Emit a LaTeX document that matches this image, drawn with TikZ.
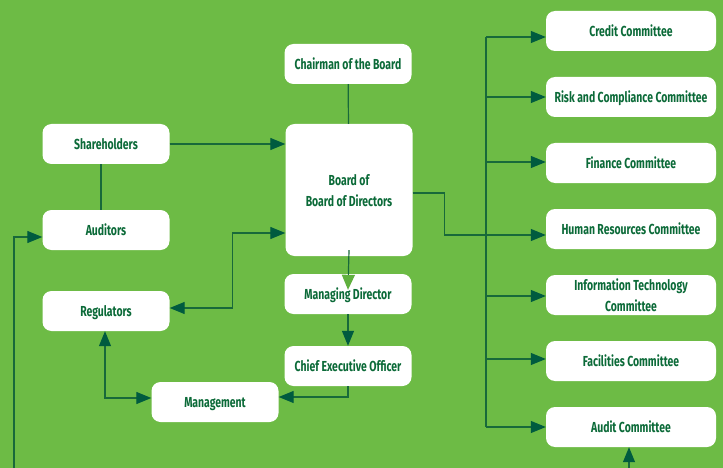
\documentclass[tikz,border=0pt]{standalone}
\usepackage{fontspec}
\usepackage{tikz}
\usetikzlibrary{arrows.meta, positioning, calc}
\newfontfamily\boxfont{Fira Sans}[FakeStretch=0.72]
\definecolor{boardbg}{RGB}{109, 187, 69}
\definecolor{boardtext}{RGB}{11, 106, 56}
\definecolor{boardline}{RGB}{24, 105, 58}
\definecolor{boardhead}{RGB}{0, 91, 63}
\definecolor{boardlight}{RGB}{96, 176, 62}

\begin{document}
\begin{tikzpicture}[
    x=1pt, y=-1pt,
    box/.style={rectangle, fill=white, rounded corners=9pt, inner sep=2pt, align=center, text depth=0pt,
        minimum width=127pt, minimum height=40pt, text=boardtext, font=\boxfont\bfseries\fontsize{14.5pt}{21pt}\selectfont},
    cbox/.style={box, minimum width=170pt},
    link/.style={draw=boardline, line width=1.2pt},
    arrow/.style={link, -{Triangle[length=15pt, width=12pt, color=boardhead]}},
    biarrow/.style={link, {Triangle[length=15pt, width=12pt, color=boardhead]}-{Triangle[length=15pt, width=12pt, color=boardhead]}},
    lightarrow/.style={link, -{Triangle[length=15pt, width=13pt, color=boardlight]}}
]
    \useasboundingbox (0,0) rectangle (723,468);
    \fill[boardbg] (0,0) rectangle (723,468);

    % Centre column
    \node[box] (chair) at (348,64) {Chairman of the Board};
    \node[box, minimum height=132pt] (board) at (349,190) {Board of\\Board of Directors};
    \node[box] (md) at (348,294) {Managing Director};
    \node[box] (ceo) at (348,366) {Chief Executive Officer};
    \node[box] (mgmt) at (215,402) {Management};

    % Left column
    \node[box] (share) at (106,144) {Shareholders};
    \node[box] (aud) at (106,230) {Auditors};
    \node[box] (reg) at (106,311) {Regulators};

    % Committees
    \node[cbox] (credit) at (631,31) {Credit Committee};
    \node[cbox] (risk) at (631,97) {Risk and Compliance Committee};
    \node[cbox] (finance) at (631,163) {Finance Committee};
    \node[cbox] (hr) at (631,229) {Human Resources Committee};
    \node[cbox] (it) at (631,295) {Information Technology\\Committee};
    \node[cbox] (fac) at (631,361) {Facilities Committee};
    \node[cbox] (audit) at (631,427) {Audit Committee};

    \coordinate (bustop) at (486,37);
    \coordinate (busbot) at (486,427);
    \coordinate (leftin) at (14,468);
    \coordinate (auditin) at (629,468);

    % Connectors
    \draw[link] (chair) -- (board);
    \draw[link] ([xshift=-5pt]share.south) -- ([xshift=-5pt]aud.north);
    \draw[arrow] (share.east) -- (share.east -| board.west);
    \draw[arrow] (leftin) |- ([yshift=-7pt]aud.west);
    \draw[biarrow] ([yshift=-43pt]board.west) -- ++(-53,0) |- ([yshift=3pt]reg.east);
    \draw[lightarrow] ([yshift=6pt]board.south) -- ([yshift=-16pt]md.north);
    \draw[arrow] (md) -- (ceo);
    \draw[arrow] (ceo.south) |- ([yshift=5pt]mgmt.east);
    \draw[biarrow] ([xshift=-1pt]reg.south) |- ([yshift=4pt]mgmt.west);

    % Committee bus
    \draw[link] (bustop) -- (busbot);
    \draw[arrow] ([yshift=-3pt]board.east) -- ++(32,0) |- ([yshift=-6pt]hr.west);
    \foreach \c/\dy in {credit/-6, risk/0, finance/1, it/-1, fac/2, audit/0}
        \draw[arrow] ([yshift=\dy pt]\c.west -| bustop) -- ([yshift=\dy pt]\c.west);
    \draw[arrow] (auditin) -- (audit.south -| auditin);
\end{tikzpicture}
\end{document}
